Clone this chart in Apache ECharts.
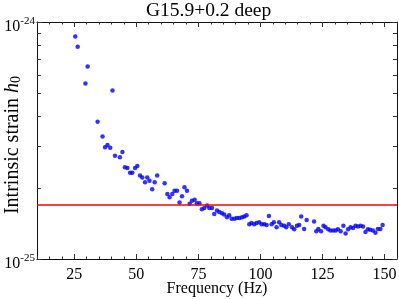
<!DOCTYPE html>
<html>
<head>
<meta charset="utf-8">
<script src="https://cdn.jsdelivr.net/npm/echarts@6/dist/echarts.min.js"></script>
<style>
html,body{margin:0;padding:0;background:#fff;}
#chart{width:399px;height:299px;}
</style>
</head>
<body>
<div id="chart"></div>
<script>
// Frequency (Hz) of each search point
const frequencies = [25.4, 26.4, 29.5, 30.4, 34.4, 36.4, 37.4, 38.4, 39.5, 40.4,
  41.4, 43.4, 44.4, 45.4, 46.4, 47.5, 48.4, 49.5, 50.4, 51.5,
  52.4, 53.5, 54.4, 55.3, 56.4, 57.4, 58.4, 61.4, 62.5, 63.4,
  64.5, 65.4, 66.4, 67.4, 68.4, 69.4, 70.4, 71.5, 72.4, 73.5,
  74.4, 75.4, 76.4, 77.4, 78.5, 79.4, 80.5, 81.4, 82.5, 83.4,
  84.5, 85.4, 86.5, 87.4, 88.4, 89.5, 90.5, 91.5, 92.6, 93.5,
  94.4, 95.5, 96.4, 97.5, 98.4, 99.5, 100.5, 101.5, 102.5, 103.4,
  104.5, 105.4, 106.5, 107.5, 108.4, 109.5, 110.4, 111.4, 112.7, 113.6,
  114.7, 115.6, 116.4, 117.6, 118.6, 121.6, 122.5, 123.3, 124.4, 125.4,
  126.2, 127.3, 128.2, 129.3, 130.3, 131.2, 132.3, 133.4, 134.3, 135.3,
  136.3, 137.3, 138.3, 139.3, 140.3, 141.3, 142.3, 143.3, 144.2, 145.3,
  146.3, 147.3, 148.3, 149.2];
// Intrinsic strain upper limits h0, in units of 1e-25
const strainE25 = [8.69, 7.86, 5.50, 6.49, 3.79, 3.29, 2.96, 3.03, 2.95, 5.14,
  2.73, 2.69, 2.83, 2.44, 2.42, 2.31, 2.31, 2.42, 2.47, 2.25,
  2.21, 2.11, 2.21, 2.14, 1.97, 2.11, 2.25, 2.09, 1.88, 1.82,
  1.88, 1.94, 1.94, 1.73, 1.84, 2.01, 1.94, 1.71, 1.76, 1.78,
  1.72, 1.72, 1.62, 1.64, 1.68, 1.64, 1.64, 1.55, 1.60, 1.58,
  1.56, 1.54, 1.50, 1.53, 1.48, 1.48, 1.49, 1.49, 1.50, 1.51,
  1.53, 1.40, 1.42, 1.40, 1.42, 1.43, 1.40, 1.40, 1.39, 1.52,
  1.40, 1.43, 1.36, 1.43, 1.39, 1.38, 1.36, 1.40, 1.36, 1.335,
  1.38, 1.39, 1.51, 1.34, 1.46, 1.44, 1.31, 1.34, 1.31, 1.38,
  1.36, 1.335, 1.32, 1.32, 1.32, 1.335, 1.31, 1.38, 1.28, 1.335,
  1.36, 1.35, 1.38, 1.37, 1.38, 1.37, 1.30, 1.335, 1.33, 1.32,
  1.29, 1.34, 1.34, 1.39];
// Indirect (age-based) limit, units of 1e-25
const indirectLimitE25 = 1.70;

const X_MIN = 10, X_MAX = 155;
const xMajorTicks = [25, 50, 75, 100, 125, 150];
const yMinorTicks = [2, 3, 4, 5, 6, 7, 8, 9];
const yExponentLabels = { 1: '-25', 10: '-24' };

const FONT = "'Liberation Serif', 'Times New Roman', serif";
const points = frequencies.map((f, i) => [f, strainE25[i]]);

const chart = echarts.init(document.getElementById('chart'), null, { renderer: 'canvas' });

const frameColor = '#111';
const tickColor = '#333';

chart.setOption({
  animation: false,
  backgroundColor: '#fff',
  title: {
    text: 'G15.9+0.2 deep',
    left: 146,
    top: 1,
    padding: 0,
    textStyle: { fontFamily: FONT, fontSize: 19.5, fontWeight: 'normal', color: '#000' }
  },
  grid: { left: 37, right: 2, top: 22, bottom: 40, containLabel: false, outerBoundsMode: 'none' },
  xAxis: [
    {
      type: 'value', min: X_MIN, max: X_MAX, position: 'bottom',
      name: 'Frequency (Hz)', nameLocation: 'middle', nameGap: 22, nameMoveOverlap: false,
      nameTextStyle: { fontFamily: FONT, fontSize: 16, color: '#000' },
      axisLine: { show: true, onZero: false, lineStyle: { color: frameColor, width: 1 } },
      axisTick: { show: true, inside: true, length: 5, customValues: xMajorTicks, lineStyle: { color: tickColor } },
      axisLabel: { customValues: xMajorTicks, margin: 8, fontFamily: FONT, fontSize: 16, color: '#000' },
      splitLine: { show: false }
    },
    {
      type: 'value', min: X_MIN, max: X_MAX, position: 'top',
      axisLine: { show: true, onZero: false, lineStyle: { color: frameColor, width: 1 } },
      axisTick: { show: true, inside: true, length: 5, customValues: xMajorTicks, lineStyle: { color: tickColor } },
      axisLabel: { show: false },
      splitLine: { show: false }
    },
    {
      type: 'value', min: X_MIN, max: X_MAX, interval: 5, position: 'bottom',
      axisLine: { show: false, onZero: false },
      axisTick: { show: true, inside: true, length: 2.5, lineStyle: { color: tickColor } },
      axisLabel: { show: false },
      splitLine: { show: false }
    },
    {
      type: 'value', min: X_MIN, max: X_MAX, interval: 5, position: 'top',
      axisLine: { show: false, onZero: false },
      axisTick: { show: true, inside: true, length: 2.5, lineStyle: { color: tickColor } },
      axisLabel: { show: false },
      splitLine: { show: false }
    }
  ],
  yAxis: [
    {
      type: 'log', logBase: 10, min: 1, max: 10, position: 'left',
      name: 'Intrinsic strain {i|h}{sub|0}', nameLocation: 'middle', nameGap: 14, nameRotate: 90,
      nameMoveOverlap: false,
      nameTextStyle: {
        fontFamily: FONT, fontSize: 20, color: '#000',
        padding: [0, 9, 0, 0],
        rich: {
          i: { fontFamily: FONT, fontSize: 20, fontStyle: 'italic', color: '#000' },
          sub: { fontFamily: FONT, fontSize: 14, color: '#000', verticalAlign: 'bottom' }
        }
      },
      axisLine: { show: true, onZero: false, lineStyle: { color: frameColor, width: 1 } },
      axisTick: { show: true, inside: true, length: 5, lineStyle: { color: tickColor } },
      axisLabel: {
        margin: 2,
        formatter: function (v) {
          const e = yExponentLabels[Math.round(v)];
          return e ? '{b|10}{s|' + e + '}' : '';
        },
        rich: {
          b: { fontFamily: FONT, fontSize: 16, color: '#000', lineHeight: 25, verticalAlign: 'bottom' },
          s: { fontFamily: FONT, fontSize: 11, color: '#000', verticalAlign: 'top', padding: [6, 0, 0, 0] }
        }
      },
      splitLine: { show: false },
      minorTick: { show: false }
    },
    {
      type: 'log', logBase: 10, min: 1, max: 10, position: 'right',
      axisLine: { show: true, onZero: false, lineStyle: { color: frameColor, width: 1 } },
      axisTick: { show: true, inside: true, length: 5, lineStyle: { color: tickColor } },
      axisLabel: { show: false },
      splitLine: { show: false }
    }
  ],
  series: [
    {
      type: 'custom',
      xAxisIndex: 0, yAxisIndex: 0,
      silent: true,
      clip: false,
      z: 5,
      data: yMinorTicks.map(v => [X_MIN, v]),
      renderItem: function (params, api) {
        const v = api.value(1);
        const l = api.coord([X_MIN, v]);
        const r = api.coord([X_MAX, v]);
        const y = Math.round(l[1]) + 0.5;
        return {
          type: 'group',
          children: [
            { type: 'line', shape: { x1: l[0], y1: y, x2: l[0] + 4, y2: y }, style: { stroke: tickColor, lineWidth: 1 } },
            { type: 'line', shape: { x1: r[0] - 4, y1: y, x2: r[0], y2: y }, style: { stroke: tickColor, lineWidth: 1 } }
          ]
        };
      }
    },
    {
      type: 'scatter',
      xAxisIndex: 0, yAxisIndex: 0,
      symbol: 'circle',
      symbolSize: 4.5,
      itemStyle: { color: '#0000ff' },
      data: points,
      z: 3,
      markLine: {
        silent: true,
        symbol: 'none',
        label: { show: false },
        lineStyle: { color: '#ff0000', width: 1.5, type: 'solid' },
        data: [{ yAxis: indirectLimitE25 }]
      }
    }
  ]
});
</script>
</body>
</html>
